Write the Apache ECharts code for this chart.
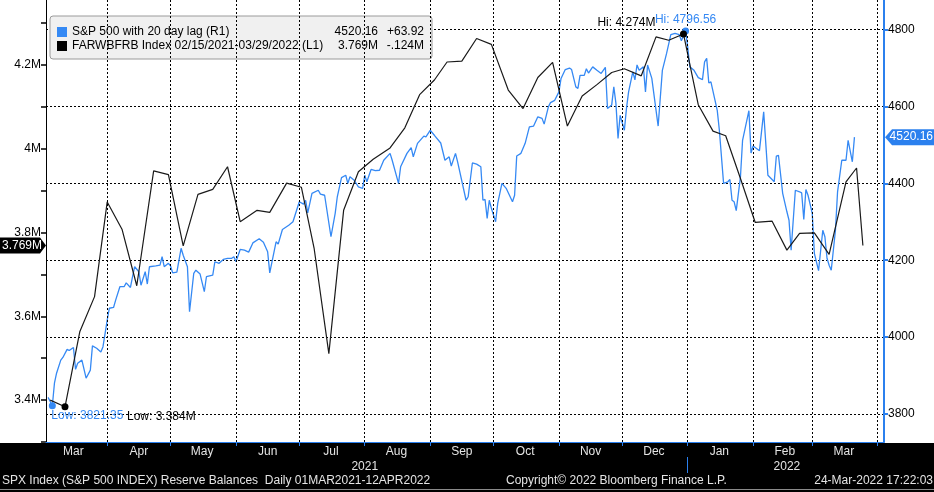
<!DOCTYPE html>
<html><head><meta charset="utf-8">
<script src="https://cdn.jsdelivr.net/npm/echarts@6/dist/echarts.min.js"></script>
<style>html,body{margin:0;padding:0;background:#fff}#c{width:934px;height:492px}</style>
</head><body><div id="c"></div>
<script>
const FONT = '"Liberation Sans", Arial, sans-serif';
const BLUE = '#3589f4';
const AXIS_BLUE = '#2b80ee';

const axisStart = '2021-03-03';
const axisEnd = '2022-04-04';
const monthNames = ['Jan','Feb','Mar','Apr','May','Jun','Jul','Aug','Sep','Oct','Nov','Dec'];
const yearLabels = {'2021-08-01': '2021', '2022-02-17': '2022'};
const yearSeparatorDate = '2022-01-01';

const spxName = 'S&P 500 with 20 day lag (R1)';
const resName = 'FARWBFRB Index 02/15/2021-03/29/2022 (L1)';
const legendLast = ['4520.16', '3.769M'];
const legendChange = ['+63.92', '-.124M'];
const footerLeft = 'SPX Index (S&P 500 INDEX) Reserve Balances  Daily 01MAR2021-12APR2022';
const footerMid = 'Copyright\u00A9 2022 Bloomberg Finance L.P.';
const footerRight = '24-Mar-2022 17:22:03';

const blueDates = ['2021-03-04','2021-03-06','2021-03-07','2021-03-08','2021-03-10','2021-03-11','2021-03-13','2021-03-14','2021-03-16','2021-03-17','2021-03-18','2021-03-20','2021-03-22','2021-03-24','2021-03-25','2021-03-27','2021-03-29','2021-03-30',
'2021-04-01','2021-04-02','2021-04-04','2021-04-05','2021-04-07','2021-04-09','2021-04-10','2021-04-12','2021-04-13','2021-04-14','2021-04-16','2021-04-17','2021-04-19','2021-04-20','2021-04-21','2021-04-24','2021-04-26','2021-04-27','2021-04-28','2021-04-30',
'2021-05-01','2021-05-02','2021-05-04','2021-05-06','2021-05-07','2021-05-09','2021-05-10','2021-05-12','2021-05-13','2021-05-15','2021-05-17','2021-05-18','2021-05-21','2021-05-22','2021-05-24','2021-05-26','2021-05-28','2021-05-30','2021-05-31',
'2021-06-01','2021-06-03','2021-06-05','2021-06-07','2021-06-09','2021-06-12','2021-06-14','2021-06-16','2021-06-17','2021-06-20','2021-06-21','2021-06-23','2021-06-26','2021-06-28',
'2021-07-01','2021-07-03','2021-07-04','2021-07-05','2021-07-07','2021-07-10','2021-07-11','2021-07-13','2021-07-16','2021-07-18','2021-07-19','2021-07-21','2021-07-23','2021-07-24','2021-07-25','2021-07-27','2021-07-29','2021-07-31',
'2021-08-01','2021-08-02','2021-08-04','2021-08-06','2021-08-08','2021-08-10','2021-08-13','2021-08-14','2021-08-17','2021-08-18','2021-08-21','2021-08-23','2021-08-24','2021-08-26','2021-08-29','2021-08-30',
'2021-09-01','2021-09-03','2021-09-06','2021-09-08','2021-09-10','2021-09-11','2021-09-13','2021-09-14','2021-09-18','2021-09-19','2021-09-21','2021-09-23','2021-09-25','2021-09-26','2021-09-27','2021-09-28','2021-09-29','2021-09-30',
'2021-10-02','2021-10-03','2021-10-05','2021-10-07','2021-10-10','2021-10-11','2021-10-12','2021-10-14','2021-10-16','2021-10-18','2021-10-20','2021-10-22','2021-10-24','2021-10-25','2021-10-27','2021-10-28','2021-10-30',
'2021-11-01','2021-11-02','2021-11-04','2021-11-06','2021-11-07','2021-11-09','2021-11-10','2021-11-11','2021-11-13','2021-11-14','2021-11-15','2021-11-17','2021-11-19','2021-11-21','2021-11-23','2021-11-24','2021-11-26','2021-11-27','2021-11-28','2021-11-29','2021-11-30',
'2021-12-02','2021-12-03','2021-12-04','2021-12-06','2021-12-07','2021-12-08','2021-12-09','2021-12-11','2021-12-12','2021-12-13','2021-12-15','2021-12-18','2021-12-20','2021-12-22','2021-12-24','2021-12-26','2021-12-28','2021-12-29','2021-12-31',
'2022-01-01','2022-01-02','2022-01-04','2022-01-06','2022-01-08','2022-01-09','2022-01-10','2022-01-11','2022-01-12','2022-01-15','2022-01-16','2022-01-18','2022-01-20','2022-01-21','2022-01-22','2022-01-23','2022-01-24','2022-01-26','2022-01-27','2022-01-30','2022-01-31',
'2022-02-01','2022-02-04','2022-02-06','2022-02-08','2022-02-11','2022-02-12','2022-02-13','2022-02-15','2022-02-17','2022-02-18','2022-02-19','2022-02-21','2022-02-23','2022-02-24','2022-02-25','2022-02-26','2022-02-27',
'2022-03-01','2022-03-02','2022-03-04','2022-03-06','2022-03-07','2022-03-08','2022-03-09','2022-03-10','2022-03-12','2022-03-13','2022-03-15','2022-03-17','2022-03-18','2022-03-20','2022-03-21'];
const blueValues = [3843,3821.35,3880,3906,3940,3947,3968,3965,3973,3916,3932,3940,3893,3914,3977,3971,3961,3975,
4044,4075,4077,4096,4131,4131,4141,4129,4157,4183,4170,4135,4170,4138,4183,4185,4187,4209,4183,4192,
4185,4167,4169,4231,4213,4183,4066,4166,4174,4164,4118,4157,4161,4196,4192,4202,4205,4205,4209,
4196,4228,4226,4221,4245,4256,4247,4222,4167,4248,4242,4280,4291,4300,
4352,4346,4356,4323,4374,4382,4372,4369,4261,4322,4365,4415,4421,4400,4417,4408,4391,4387,
4421,4404,4436,4433,4434,4460,4478,4460,4400,4443,4478,4493,4469,4504,4523,4521,
4538,4525,4505,4460,4469,4445,4478,4456,4356,4365,4453,4450,4443,4356,4358,4309,4356,4335,
4300,4348,4400,4387,4352,4369,4471,4478,4504,4547,4549,4573,4569,4554,4599,4610,4616,
4638,4673,4696,4700,4696,4651,4647,4681,4681,4698,4687,4703,4694,4686,4702,4595,4604,4651,4608,4517,4577,
4538,4595,4638,4690,4669,4708,4694,4703,4638,4708,4673,4549,4694,4738,4787,4790,4787,4771,4796.56,
4755,4703,4694,4675,4670,4716,4725,4661,4664,4590,4538,4400,4404,4410,4356,4352,4329,4417,4512,4589,4479,
4497,4485,4586,4421,4404,4471,4473,4374,4326,4304,4226,4382,4378,4375,4306,4384,4369,
4322,4218,4173,4278,4261,4205,4187,4174,4278,4378,4460,4460,4512,4456,4520.16];

const blackDates = ['2021-03-05','2021-03-12','2021-03-19','2021-03-26','2021-04-01','2021-04-08','2021-04-15','2021-04-23','2021-04-30','2021-05-07','2021-05-14','2021-05-21','2021-05-28',
'2021-06-03','2021-06-11','2021-06-17','2021-06-25','2021-07-02','2021-07-08','2021-07-15','2021-07-22','2021-07-29','2021-08-05','2021-08-13','2021-08-20','2021-08-27',
'2021-09-03','2021-09-09','2021-09-16','2021-09-23','2021-09-30','2021-10-08','2021-10-15','2021-10-22','2021-10-29','2021-11-05','2021-11-12','2021-11-19','2021-11-26',
'2021-12-02','2021-12-10','2021-12-17','2021-12-23','2021-12-30','2022-01-06','2022-01-13','2022-01-19','2022-01-26','2022-02-02','2022-02-10','2022-02-17','2022-02-23',
'2022-03-02','2022-03-09','2022-03-17','2022-03-22','2022-03-25'];
const blackValues = [3.400,3.384,3.563,3.647,3.873,3.808,3.673,3.947,3.938,3.768,3.891,3.903,3.957,
3.826,3.853,3.848,3.918,3.908,3.763,3.511,3.853,3.945,3.975,4.002,4.050,4.129,
4.164,4.207,4.209,4.263,4.249,4.140,4.096,4.170,4.206,4.054,4.126,4.153,4.182,
4.191,4.174,4.267,4.259,4.274,4.105,4.042,4.031,3.929,3.824,3.827,3.758,3.798,
3.799,3.748,3.921,3.954,3.769];

function dayList(start, end) {
  const out = [];
  let t = Date.parse(start + 'T00:00:00Z');
  const e = Date.parse(end + 'T00:00:00Z');
  while (t <= e) { out.push(new Date(t).toISOString().slice(0, 10)); t += 86400000; }
  return out;
}
const categories = dayList(axisStart, axisEnd);
const catIndex = {};
categories.forEach((d, i) => { catIndex[d] = i; });
const blueData = blueDates.map((d, i) => [catIndex[d], blueValues[i]]);
const blackData = blackDates.map((d, i) => [catIndex[d], blackValues[i]]);

const chart = echarts.init(document.getElementById('c'), null, {renderer: 'canvas'});
const txt = {fontFamily: FONT, fontSize: 12};

const option = {
  animation: false,
  backgroundColor: '#fff',
  grid: {left: 46, right: 50, top: 0, bottom: 50, containLabel: false},
  legend: {
    left: 50, top: 16, orient: 'vertical', data: [spxName, resName],
    icon: 'rect', itemWidth: 10, itemHeight: 10, itemGap: 2,
    backgroundColor: '#f0f0f0', borderColor: '#9a9a9a', borderWidth: 1, borderRadius: 3,
    padding: [10, 8, 7, 7], selectedMode: false,
    formatter: function (name) {
      const i = name === spxName ? 0 : 1;
      return '{n|' + name + '}{v|' + legendLast[i] + '}{c|' + legendChange[i] + '}';
    },
    textStyle: {
      fontFamily: FONT, fontSize: 12, color: '#000',
      rich: {
        n: {width: 262, fontFamily: FONT, fontSize: 12, color: '#000'},
        v: {width: 44, align: 'right', fontFamily: FONT, fontSize: 12, color: '#000'},
        c: {width: 46, align: 'right', fontFamily: FONT, fontSize: 12, color: '#000'}
      }
    }
  },
  xAxis: [{
    type: 'category', data: categories, boundaryGap: false, z: 5,
    axisLine: {lineStyle: {color: AXIS_BLUE, width: 1}},
    axisTick: {interval: (i, v) => v.endsWith('-01'), length: 4, lineStyle: {color: AXIS_BLUE}},
    axisLabel: Object.assign({
      interval: (i, v) => v.endsWith('-16'),
      formatter: v => monthNames[+v.slice(5, 7) - 1],
      color: '#e4e4e4', margin: 4
    }, txt),
    splitLine: {show: true, interval: (i, v) => v.endsWith('-01'), lineStyle: {color: '#000', type: [2, 2], width: 1}}
  }, {
    type: 'category', data: categories, boundaryGap: false, position: 'bottom', offset: 15, z: 5,
    axisLine: {show: false},
    axisTick: {show: true, interval: (i, v) => v === yearSeparatorDate, length: 16, lineStyle: {color: AXIS_BLUE}},
    axisLabel: Object.assign({
      interval: (i, v) => v in yearLabels,
      formatter: v => yearLabels[v] || '',
      color: '#e4e4e4', margin: 4
    }, txt),
    splitLine: {show: false}
  }],
  yAxis: [{
    type: 'value', position: 'left', min: 3.3, max: 4.355, interval: 0.1,
    axisLine: {show: true, lineStyle: {color: '#000', width: 1}},
    axisTick: {show: true, length: 5, lineStyle: {color: '#000', width: 1.5}},
    axisLabel: Object.assign({
      color: '#000', margin: 5, showMaxLabel: false,
      formatter: function (v) {
        const t = Math.round(v * 10);
        if (Math.abs(v * 10 - t) > 1e-6 || t % 2) return '';
        return (t / 10) + 'M';
      }
    }, txt),
    splitLine: {show: false}
  }, {
    type: 'value', position: 'right', min: 3727, max: 4877, splitNumber: 5,
    axisLine: {show: true, lineStyle: {color: AXIS_BLUE, width: 2}},
    axisTick: {show: true, length: 4, lineStyle: {color: AXIS_BLUE, width: 2}},
    axisLabel: Object.assign({color: '#000', margin: 4, showMinLabel: false, showMaxLabel: false, formatter: v => String(v)}, txt),
    splitLine: {show: true, showMinLine: false, showMaxLine: false, lineStyle: {color: '#000', type: [2, 2], width: 1}}
  }],
  series: [{
    name: spxName, type: 'line', xAxisIndex: 0, yAxisIndex: 1, data: blueData,
    showSymbol: false, color: BLUE, lineStyle: {color: BLUE, width: 1.3}, z: 3,
    markPoint: {
      symbol: 'circle', symbolSize: 7, itemStyle: {color: BLUE},
      label: Object.assign({show: true, color: BLUE}, txt),
      data: [
        {type: 'max', label: {position: 'top', offset: [0, 3], formatter: p => 'Hi: ' + p.value}},
        {type: 'min', label: {position: 'bottom', align: 'left', offset: [-1, -5], formatter: p => 'Low: ' + p.value}}
      ]
    }
  }, {
    name: resName, type: 'line', xAxisIndex: 0, yAxisIndex: 0, data: blackData,
    showSymbol: false, color: '#000', lineStyle: {color: '#1a1a1a', width: 1.2}, z: 4,
    markPoint: {
      symbol: 'circle', symbolSize: 7, itemStyle: {color: '#000'},
      label: Object.assign({show: true, color: '#000'}, txt),
      data: [
        {type: 'max', label: {position: 'top', align: 'right', offset: [-28, 3], formatter: p => 'Hi: ' + p.value.toFixed(3) + 'M'}},
        {type: 'min', label: {position: 'bottom', align: 'left', offset: [62, -5], formatter: p => 'Low: ' + p.value.toFixed(3) + 'M'}}
      ]
    }
  }]
};
chart.setOption(option);

const lastBlack = blackValues[blackValues.length - 1];
const lastBlue = blueValues[blueValues.length - 1];
const yB = chart.convertToPixel({yAxisIndex: 0}, lastBlack);
const yS = chart.convertToPixel({yAxisIndex: 1}, lastBlue);
const W = 934, H = 492;
const font12 = '12px "Liberation Sans", Arial, sans-serif';
chart.setOption({
  graphic: [
    {type: 'rect', z: -10, silent: true, shape: {x: 0, y: 443, width: W, height: H - 443}, style: {fill: '#000'}},
    {type: 'rect', z: -9, silent: true, shape: {x: 0, y: 489, width: W, height: 1}, style: {fill: '#8a8a8a'}},
    {type: 'text', z: 10, silent: true, x: 2, y: 481, style: {text: footerLeft, fill: '#e4e4e4', font: font12, textVerticalAlign: 'middle'}},
    {type: 'text', z: 10, silent: true, x: 506, y: 481, style: {text: footerMid, fill: '#e4e4e4', font: font12, textVerticalAlign: 'middle'}},
    {type: 'text', z: 10, silent: true, x: W - 1, y: 481, style: {text: footerRight, fill: '#e4e4e4', font: font12, textAlign: 'right', textVerticalAlign: 'middle'}},
    {type: 'polygon', z: 10, silent: true, shape: {points: [[0, yB - 8], [40, yB - 8], [46, yB], [40, yB + 8], [0, yB + 8]]}, style: {fill: '#000'}},
    {type: 'text', z: 11, silent: true, x: 2, y: yB, style: {text: legendLast[1], fill: '#fff', font: font12, textVerticalAlign: 'middle'}},
    {type: 'polygon', z: 10, silent: true, shape: {points: [[885, yS], [892, yS - 8], [W, yS - 8], [W, yS + 8], [892, yS + 8]]}, style: {fill: AXIS_BLUE}},
    {type: 'text', z: 11, silent: true, x: W - 1, y: yS, style: {text: legendLast[0], fill: '#fff', font: font12, textAlign: 'right', textVerticalAlign: 'middle'}}
  ]
});
</script></body></html>
